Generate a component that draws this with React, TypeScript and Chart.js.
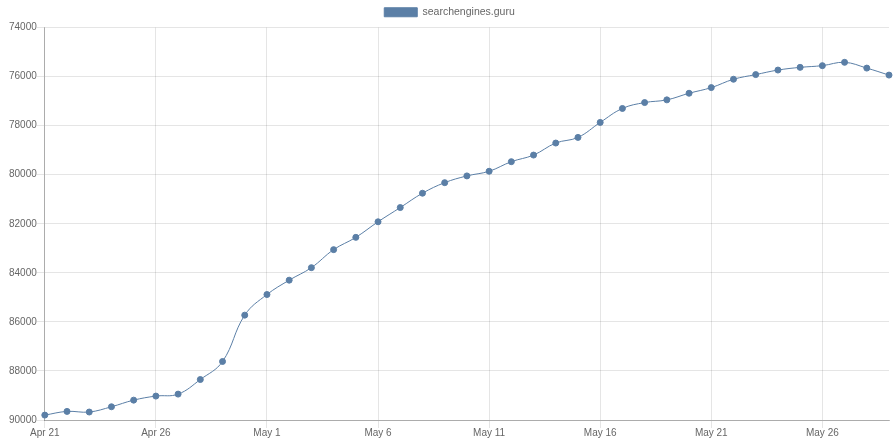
import React, { useEffect, useRef } from "react";
import { Chart, registerables } from "chart.js";

Chart.register(...registerables);

const categories: string[] = [
  "Apr 21", "Apr 22", "Apr 23", "Apr 24", "Apr 25", "Apr 26", "Apr 27", "Apr 28", "Apr 29", "Apr 30",
  "May 1", "May 2", "May 3", "May 4", "May 5", "May 6", "May 7", "May 8", "May 9", "May 10",
  "May 11", "May 12", "May 13", "May 14", "May 15", "May 16", "May 17", "May 18", "May 19", "May 20",
  "May 21", "May 22", "May 23", "May 24", "May 25", "May 26", "May 27", "May 28", "May 29",
];

const seriesName = "searchengines.guru";

const seriesValues: number[] = [
  89800, 89650, 89675, 89460, 89190, 89025, 88945, 88350, 87615, 85725,
  84885, 84300, 83790, 83055, 82555, 81920, 81340, 80755, 80325, 80050,
  79860, 79470, 79200, 78710, 78480, 77870, 77300, 77060, 76950, 76680,
  76450, 76110, 75920, 75735, 75625, 75555, 75420, 75655, 75940,
];

const yMin = 74000;
const yMax = 90000;
const yStep = 2000;
const xLabelEvery = 5;

export default function App() {
  const canvasRef = useRef<HTMLCanvasElement | null>(null);

  useEffect(() => {
    if (!canvasRef.current) return;
    const color = "#5B7FA6";
    const family = "'Liberation Sans', Arial, sans-serif";
    const chart = new Chart(canvasRef.current, {
      type: "line",
      data: {
        labels: categories,
        datasets: [
          {
            label: seriesName,
            data: seriesValues,
            borderColor: color,
            backgroundColor: color,
            borderWidth: 1,
            pointRadius: 3,
            pointBackgroundColor: color,
            pointBorderColor: color,
            pointBorderWidth: 1,
            tension: 0.4,
            fill: false,
          },
        ],
      },
      options: {
        animation: false,
        responsive: false,
        maintainAspectRatio: false,
        layout: { padding: { left: 9, right: 4, top: 2, bottom: 3 } },
        plugins: {
          legend: {
            position: "top",
            labels: {
              boxWidth: 33,
              boxHeight: 9,
              color: "#666",
              font: { family, size: 10.5 },
              padding: 5,
            },
          },
          tooltip: { enabled: false },
        },
        scales: {
          x: {
            type: "category",
            offset: false,
            grid: { color: "rgba(0,0,0,0.1)", tickLength: 8 },
            border: { color: "rgba(0,0,0,0.25)" },
            ticks: {
              autoSkip: false,
              maxRotation: 0,
              color: "#666",
              font: { family, size: 10, lineHeight: 1 },
              padding: 0,
              callback: (_v: any, idx: number) => (idx % xLabelEvery === 0 ? categories[idx] : null),
            },
          },
          y: {
            reverse: true,
            min: yMin,
            max: yMax,
            grid: { color: "rgba(0,0,0,0.1)", tickLength: 8 },
            border: { color: "rgba(0,0,0,0.25)" },
            ticks: {
              stepSize: yStep,
              color: "#666",
              font: { family, size: 10 },
              padding: 0,
              callback: (v: any) => String(v),
            },
          },
        },
      },
    });
    return () => chart.destroy();
  }, []);

  return (
    <div style={{ position: "absolute", left: 0, top: 0, width: 894, height: 441 }}>
      <canvas ref={canvasRef} width={894} height={441} style={{ width: 894, height: 441 }} />
    </div>
  );
}
